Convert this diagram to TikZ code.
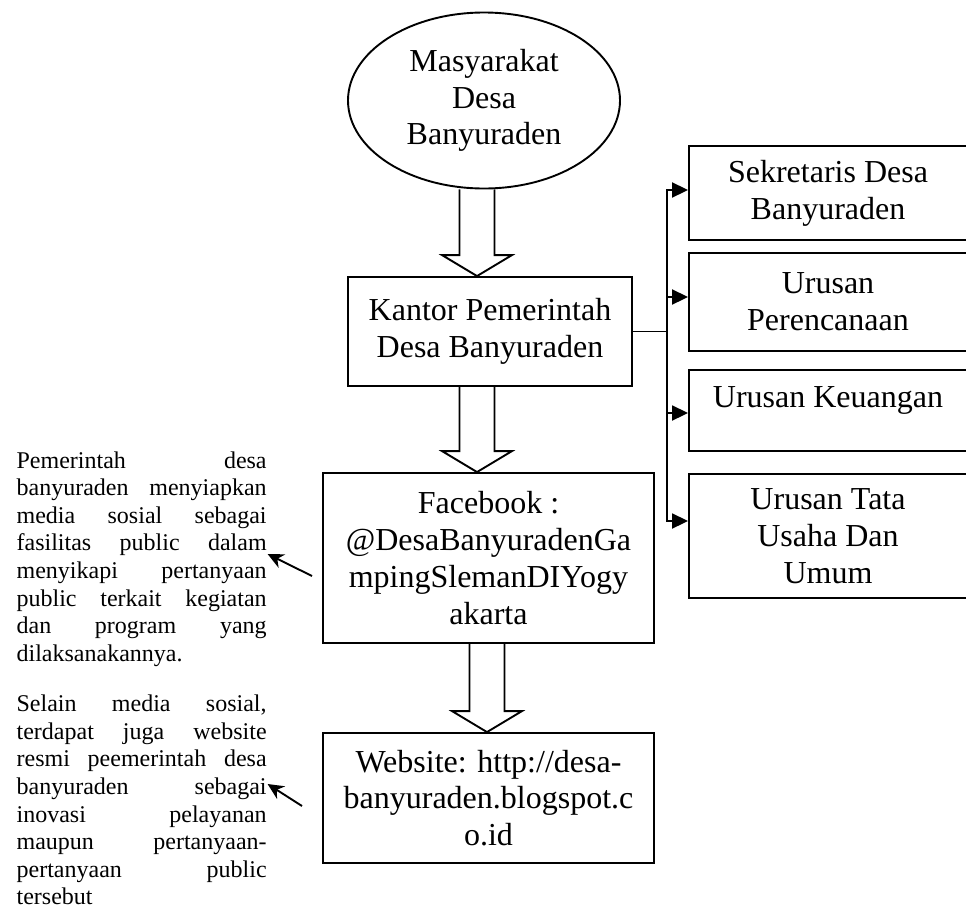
\documentclass[tikz,border=0pt]{standalone}
\usepackage{fontspec}
\setmainfont{Liberation Serif}
\usetikzlibrary{shapes.geometric,arrows.meta,calc}
\tolerance=10000
\hyphenpenalty=10000
% hollow block arrow: x of its axis, from (node anchor), to (node anchor)
\newcommand{\fatarrow}[3]{%
  \draw (#1-17.5,0 |- #2) -- ($(#1-17.5,0 |- #3)+(0,-21)$) -- ($(#1-35,0 |- #3)+(0,-21)$)
    -- (#1,0 |- #3) -- ($(#1+35,0 |- #3)+(0,-21)$) -- ($(#1+17.5,0 |- #3)+(0,-21)$) -- (#1+17.5,0 |- #2);}
\begin{document}
\begin{tikzpicture}[x=1pt,y=-1pt,line width=1.9pt,
	big/.style={font=\fontsize{32}{36.8}\selectfont,align=center,inner sep=0pt},
	box/.style={big,draw,rectangle},
	note/.style={font=\fontsize{24}{27.6}\selectfont,text width=250pt,align=justify,inner sep=0pt,anchor=base west},
	tip/.style={-{Triangle[length=16pt,width=15pt]}},
	pointer/.style={-{Stealth[length=16pt,width=15pt]}}]
	\useasboundingbox (0,0) rectangle (966,911);
	% alur tengah
	\node[big,draw,ellipse,minimum width=272pt,minimum height=176pt] (masy) at (484,100.5) {Masyarakat\\Desa\\Banyuraden};
	\node[box,minimum width=284pt,minimum height=109pt] (kantor) at (490,331.5) {Kantor Pemerintah\\Desa Banyuraden};
	\node[box,minimum width=331pt,minimum height=170pt] (fb) at (488.5,558) {Facebook :\\@DesaBanyuradenGa\\mpingSlemanDIYogy\\akarta};
	\node[box,minimum width=331pt,minimum height=130pt] (web) at (488.5,798) {Website: http://desa-\\banyuraden.blogspot.c\\o.id};
	\fatarrow{477}{masy.south}{kantor.north}
	\fatarrow{477}{kantor.south}{fb.north}
	\fatarrow{487}{fb.south}{web.north}
	% bagian-bagian kantor desa
	\node[box,minimum width=278pt,minimum height=94.5pt] (sekdes) at (828,193) {Sekretaris Desa\\Banyuraden};
	\node[box,minimum width=278pt,minimum height=98pt] (renc) at (828,302) {Urusan\\Perencanaan};
	\node[box,minimum width=278pt,minimum height=81pt,text depth=27pt] (keu) at (828,410.5) {Urusan Keuangan};
	\node[box,minimum width=278pt,minimum height=124pt] (tu) at (828,536) {Urusan Tata\\Usaha Dan\\Umum};
	\coordinate (bus) at (667,0 |- kantor.east);
	\draw (kantor.east) -- (bus);
	\foreach \b/\y in {sekdes/190,renc/297,keu/413,tu/521}
		\draw[tip] (bus) |- (\b.west |- 0,\y);
	% keterangan kiri
	\node[note] (note1) at (15.7,468) {Pemerintah desa \linebreak banyuraden menyiapkan \linebreak media sosial sebagai \linebreak fasilitas public dalam \linebreak menyikapi pertanyaan \linebreak public terkait kegiatan \linebreak dan program yang \linebreak dilaksanakannya.};
	\node[note] (note2) at (15.7,711.7) {Selain media sosial, \linebreak terdapat juga website \linebreak resmi peemerintah desa \linebreak banyuraden sebagai \linebreak inovasi pelayanan \linebreak maupun pertanyaan-\linebreak pertanyaan public \linebreak tersebut};
	\coordinate (fbtail) at (312,576);
	\coordinate (webtail) at (302,806);
	\draw[pointer] (fbtail) -- (note1.east |- 0,554);
	\draw[pointer] (webtail) -- (note2.east |- 0,784);
\end{tikzpicture}
\end{document}
